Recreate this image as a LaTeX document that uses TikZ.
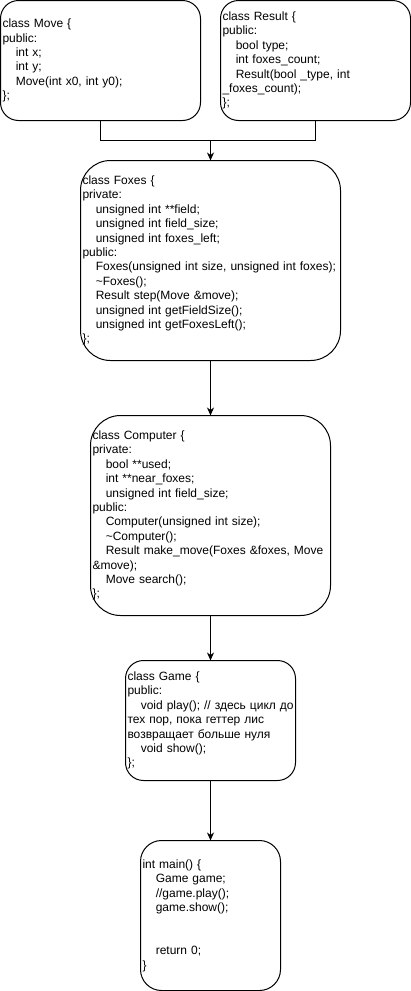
\documentclass[tikz,border=0pt]{standalone}
\usepackage{fontspec}
\setmainfont{Liberation Sans}
\usetikzlibrary{arrows.meta}
\newcommand\ind{\hspace*{13.3pt}}
\begin{document}
\begin{tikzpicture}[x=1pt,y=-1pt,
  box/.style={draw=black, line width=1pt, fill=white, inner sep=0pt, outer sep=0pt,
    align=left, font=\fontsize{12}{14.4}\selectfont},
  conn/.style={draw=black, line width=1pt},
  arr/.style={conn, -{Stealth[length=8pt,width=7pt,inset=2.5pt]}}]
\useasboundingbox (0,0) rectangle (411,991);

\node[box, minimum width=200pt, minimum height=120pt, text width=196pt, rounded corners=18pt] (move) at (100.5,60.5)
{class Move \{\\public:\\\ind int x;\\\ind int y;\\\ind Move(int x0, int y0);\\\};};

\node[box, minimum width=190pt, minimum height=120pt, text width=186pt, rounded corners=18pt] (result) at (315.5,60.5)
{class Result \{\\public:\\\ind bool type;\\\ind int foxes\_count;\\\ind Result(bool \_type, int\\\_foxes\_count);\\\};};

\node[box, minimum width=260pt, minimum height=200pt, text width=256pt, rounded corners=30pt] (foxes) at (210.5,260.5)
{class Foxes \{\\private:\\\ind unsigned int **field;\\\ind unsigned int field\_size;\\\ind unsigned int foxes\_left;\\public:\\\ind Foxes(unsigned int size, unsigned int foxes);\\\ind \textasciitilde Foxes();\\\ind Result step(Move \&move);\\\ind unsigned int getFieldSize();\\\ind unsigned int getFoxesLeft();\\\};};

\node[box, minimum width=240pt, minimum height=200pt, text width=236pt, rounded corners=30pt] (computer) at (210.5,515.5)
{class Computer \{\\private:\\\ind bool **used;\\\ind int **near\_foxes;\\\ind unsigned int field\_size;\\public:\\\ind Computer(unsigned int size);\\\ind \textasciitilde Computer();\\\ind Result make\_move(Foxes \&foxes, Move\\\&move);\\\ind Move search();\\\};};

\node[box, minimum width=170pt, minimum height=120pt, text width=166pt, rounded corners=18pt] (game) at (210.5,720.5)
{class Game \{\\public:\\\mbox{\ind void play(); // здесь цикл до}\\тех пор, пока геттер лис\\возвращает больше нуля\\\ind void show();\\\};};

\node[box, minimum width=140pt, minimum height=150pt, text width=136pt, rounded corners=21pt] (main) at (210.5,915.5)
{int main() \{\\\ind Game game;\\\ind //game.play();\\\ind game.show();\\\mbox{}\\\mbox{}\\\ind return 0;\\\}};

\coordinate (j) at (210.5,140.5);
\draw[conn] (move.south) |- (j);
\draw[conn] (result.south) |- (j);
\draw[arr] (j) -- (foxes.north);
\draw[arr] (foxes.south) -- (computer.north);
\draw[arr] (computer.south) -- (game.north);
\draw[arr] (game.south) -- (main.north);
\end{tikzpicture}
\end{document}
